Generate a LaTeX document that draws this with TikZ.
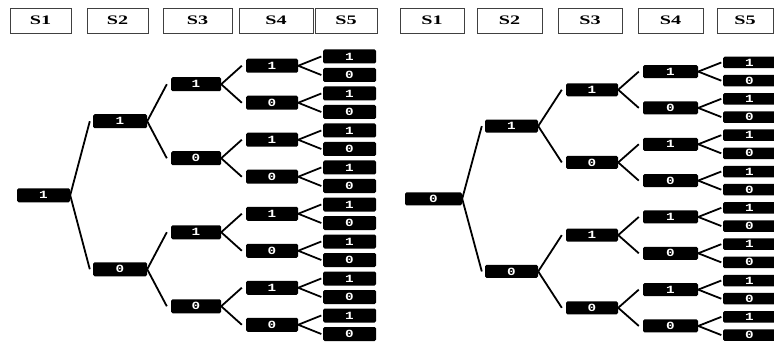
\documentclass[tikz,border=0pt]{standalone}
\usepackage{fontspec}
\newfontfamily\hdrfont{Liberation Serif}[FakeStretch=1.55]
\newfontfamily\bitfont{Liberation Mono}[FakeStretch=1.3]
\tikzset{
  hdr/.style={draw=black!75, line width=0.9pt, inner sep=0pt,
    font=\hdrfont\bfseries\fontsize{13}{13}\selectfont},
  bit/.style={fill=black, rounded corners=1.5pt, inner sep=0pt, text=white,
    font=\bitfont\bfseries\fontsize{11}{11}\selectfont},
  edge/.style={draw=black, line width=1.8pt},
}
\begin{document}
\begin{tikzpicture}[x=1pt, y=-1pt]
\useasboundingbox (0,0) rectangle (774,342);

% stage headers: name / left / right
\foreach \n/\s/\l/\r in {
  L1/S1/10/71, L2/S2/87/148, L3/S3/163/232, L4/S4/239/313, L5/S5/315/377,
  R1/S1/400/464, R2/S2/477/542, R3/S3/558/622, R4/S4/638/703, R5/S5/717/773}
  \node[hdr, minimum width={(\r-\l)*1pt}, minimum height=25pt]
    (h-\n) at ({(\l+\r)/2}, 20.5) {\s};

% two binary trees: name / root bit / level x-centres / level widths /
% first leaf y / leaf pitch / box height / leaf height
\foreach \t/\rl/\xA/\xB/\xC/\xD/\xE/\wA/\wB/\wC/\wD/\wE/\yA/\dY/\hB/\hL in {
  A/1/43.5/120/196/272/349.5/53/54/50/52/53/56.5/18.5/14/14,
  B/0/433.5/511.5/592/670.5/749.5/57/53/52/55/53/62.5/18.17/13/11.5}
{
  \node[bit, minimum width=\wA pt, minimum height=\hB pt]
    (\t-1) at (\xA, {\yA+7.5*\dY}) {\rl};
  \foreach \m in {0,1} {
    \pgfmathtruncatemacro\lab{1-mod(\m,2)}
    \node[bit, minimum width=\wB pt, minimum height=\hB pt]
      (\t-2-\m) at (\xB, {\yA+(8*\m+3.5)*\dY}) {\lab};
    \draw[edge] (\t-1.east) -- ([xshift=-3pt]\t-2-\m.west);
  }
  \foreach \k in {0,...,3} {
    \pgfmathtruncatemacro\lab{1-mod(\k,2)}
    \pgfmathtruncatemacro\up{div(\k,2)}
    \node[bit, minimum width=\wC pt, minimum height=\hB pt]
      (\t-3-\k) at (\xC, {\yA+(4*\k+1.5)*\dY}) {\lab};
    \draw[edge] (\t-2-\up.east) -- ([xshift=-4pt]\t-3-\k.west);
  }
  \foreach \j in {0,...,7} {
    \pgfmathtruncatemacro\lab{1-mod(\j,2)}
    \pgfmathtruncatemacro\up{div(\j,2)}
    \node[bit, minimum width=\wD pt, minimum height=\hB pt]
      (\t-4-\j) at (\xD, {\yA+(2*\j+0.5)*\dY}) {\lab};
    \draw[edge] (\t-3-\up.east) -- ([xshift=-4pt]\t-4-\j.west);
  }
  \foreach \i in {0,...,15} {
    \pgfmathtruncatemacro\lab{1-mod(\i,2)}
    \pgfmathtruncatemacro\up{div(\i,2)}
    \node[bit, minimum width=\wE pt, minimum height=\hL pt]
      (\t-5-\i) at (\xE, {\yA+\i*\dY}) {\lab};
    \draw[edge] (\t-4-\up.east) -- ([xshift=-1.5pt]\t-5-\i.west);
  }
}
\end{tikzpicture}
\end{document}
